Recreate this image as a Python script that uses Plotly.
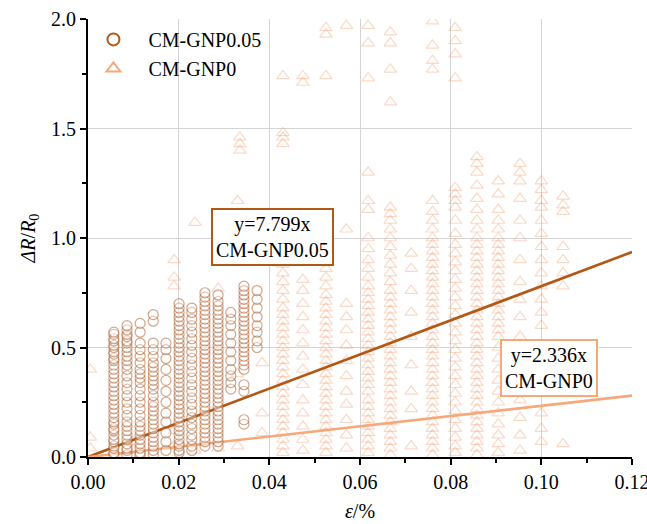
import plotly.graph_objects as go

# ---------------- data ----------------
gnp005_x = [0.0057, 0.0086, 0.0115, 0.0144, 0.0172, 0.0201,
            0.0229, 0.0258, 0.0287, 0.0315, 0.0344, 0.0373]
gnp005_y = [
    [0.01, 0.02, 0.04, 0.05, 0.07, 0.08, 0.10, 0.12, 0.13, 0.15, 0.16, 0.18, 0.20,
     0.22, 0.24, 0.26, 0.28, 0.30, 0.32, 0.34, 0.36, 0.38, 0.40, 0.42, 0.44, 0.45,
     0.47, 0.48, 0.50, 0.51, 0.53, 0.54, 0.56, 0.57],
    [0.01, 0.03, 0.04, 0.06, 0.08, 0.10, 0.12, 0.14, 0.16, 0.19, 0.22, 0.25, 0.28,
     0.31, 0.34, 0.37, 0.40, 0.42, 0.44, 0.46, 0.48, 0.50, 0.52, 0.53, 0.55, 0.56,
     0.58, 0.60],
    [0.01, 0.02, 0.04, 0.06, 0.08, 0.10, 0.12, 0.14, 0.16, 0.19, 0.22, 0.25, 0.28,
     0.31, 0.34, 0.36, 0.38, 0.40, 0.43, 0.46, 0.49, 0.52, 0.57, 0.61],
    [0.01, 0.03, 0.05, 0.07, 0.09, 0.11, 0.13, 0.15, 0.17, 0.19, 0.21, 0.23, 0.25,
     0.28, 0.31, 0.33, 0.35, 0.37, 0.39, 0.41, 0.43, 0.46, 0.49, 0.52, 0.62, 0.65],
    [0.03, 0.07, 0.11, 0.16, 0.20, 0.25, 0.30, 0.35, 0.40, 0.45, 0.49, 0.52],
    [0.02, 0.03, 0.05, 0.06, 0.08, 0.10, 0.12, 0.14, 0.16, 0.18, 0.20, 0.22, 0.24,
     0.26, 0.28, 0.30, 0.32, 0.34, 0.36, 0.38, 0.40, 0.42, 0.44, 0.46, 0.48, 0.50,
     0.52, 0.54, 0.56, 0.58, 0.60, 0.62, 0.64, 0.66, 0.68, 0.70],
    [0.03, 0.05, 0.08, 0.10, 0.13, 0.15, 0.18, 0.21, 0.24, 0.27, 0.30, 0.33, 0.36,
     0.39, 0.42, 0.45, 0.48, 0.51, 0.54, 0.57, 0.60, 0.63, 0.66, 0.68],
    [0.05, 0.07, 0.09, 0.11, 0.13, 0.15, 0.17, 0.19, 0.21, 0.23, 0.25, 0.27, 0.29,
     0.31, 0.33, 0.35, 0.37, 0.39, 0.41, 0.43, 0.45, 0.47, 0.49, 0.51, 0.53, 0.55,
     0.57, 0.59, 0.61, 0.63, 0.65, 0.67, 0.69, 0.71, 0.73, 0.75],
    [0.05, 0.07, 0.09, 0.11, 0.13, 0.15, 0.17, 0.19, 0.21, 0.23, 0.25, 0.27, 0.29,
     0.31, 0.33, 0.35, 0.37, 0.39, 0.41, 0.43, 0.45, 0.47, 0.49, 0.51, 0.53, 0.55,
     0.57, 0.59, 0.61, 0.63, 0.65, 0.67, 0.69, 0.71, 0.74],
    [0.31, 0.34, 0.37, 0.40, 0.44, 0.48, 0.52, 0.56, 0.60, 0.63, 0.66],
    [0.15, 0.17, 0.30, 0.33, 0.40, 0.42, 0.44, 0.46, 0.48, 0.50, 0.52, 0.54, 0.56,
     0.58, 0.60, 0.62, 0.64, 0.66, 0.68, 0.70, 0.72, 0.74, 0.76, 0.78],
    [0.50, 0.53, 0.57, 0.60, 0.64, 0.68, 0.72, 0.76],
]

gnp0_x = [0.0005, 0.0100, 0.0190, 0.0236, 0.0287, 0.0330, 0.0335, 0.0384,
          0.0430, 0.0474, 0.0525, 0.0570, 0.0618, 0.0667, 0.0713, 0.0760,
          0.0810, 0.0858, 0.0905, 0.0953, 0.1000, 0.1048]
gnp0_y = [
    [0.04, 0.09, 0.40],
    [0.03, 0.07],
    [0.05, 0.12, 0.78, 0.82, 0.90],
    [0.03, 1.07],
    [0.04, 0.77, 1.07],
    [0.05, 0.38, 1.17],
    [1.40, 1.43, 1.46],
    [0.11, 0.20, 0.43],
    [0.02, 0.05, 0.08, 0.11, 0.14, 0.17, 0.20, 0.23, 0.26, 0.29, 0.32, 0.35, 0.38,
     0.41, 0.44, 0.47, 0.50, 0.53, 0.56, 0.59, 0.62, 0.65, 0.68, 0.72, 0.76, 0.80,
     0.84, 0.88, 0.93, 0.98, 1.43, 1.46, 1.48, 1.74],
    [0.03, 0.08, 0.14, 0.20, 0.26, 0.33, 0.40, 0.46, 0.52, 0.58, 0.64, 0.70, 0.76,
     0.81, 1.71, 1.74],
    [0.02, 0.05, 0.08, 0.11, 0.14, 0.17, 0.20, 0.23, 0.26, 0.29, 0.32, 0.35, 0.38,
     0.41, 0.44, 0.47, 0.50, 0.53, 0.56, 0.59, 0.62, 0.65, 0.68, 0.71, 0.74, 0.78,
     0.82, 0.86, 0.90, 0.94, 0.98, 1.74, 1.93, 1.96],
    [0.04, 0.10, 0.17, 0.24, 0.30, 0.37, 0.44, 0.51, 0.58, 0.64, 0.70, 1.04, 1.97],
    [0.02, 0.05, 0.08, 0.11, 0.14, 0.17, 0.20, 0.23, 0.26, 0.30, 0.33, 0.36, 0.39,
     0.42, 0.45, 0.48, 0.51, 0.54, 0.57, 0.60, 0.63, 0.66, 0.69, 0.72, 0.75, 0.78,
     0.82, 0.86, 0.90, 0.95, 1.00, 1.13, 1.17, 1.30, 1.73, 1.89, 1.97],
    [0.01, 0.04, 0.07, 0.10, 0.13, 0.16, 0.19, 0.22, 0.25, 0.28, 0.31, 0.34, 0.37,
     0.40, 0.43, 0.46, 0.49, 0.52, 0.55, 0.58, 0.61, 0.64, 0.67, 0.70, 0.73, 0.76,
     0.80, 0.84, 0.88, 0.92, 0.96, 1.00, 1.04, 1.08, 1.11, 1.14, 1.62, 1.77, 1.89,
     1.94],
    [0.05, 0.22, 0.30, 0.42, 0.55, 0.66, 0.76, 0.86, 0.93],
    [0.01, 0.04, 0.07, 0.10, 0.13, 0.16, 0.19, 0.22, 0.25, 0.28, 0.31, 0.34, 0.37,
     0.40, 0.43, 0.46, 0.49, 0.52, 0.55, 0.58, 0.61, 0.64, 0.67, 0.70, 0.73, 0.76,
     0.79, 0.82, 0.85, 0.88, 0.91, 0.94, 0.97, 1.00, 1.04, 1.08, 1.12, 1.17, 1.77,
     1.81, 1.88, 1.99],
    [0.02, 0.05, 0.09, 0.13, 0.17, 0.21, 0.25, 0.29, 0.33, 0.37, 0.41, 0.45, 0.49,
     0.53, 0.57, 0.61, 0.65, 0.69, 0.73, 0.77, 0.81, 0.85, 0.89, 0.93, 0.97, 1.02,
     1.08, 1.14, 1.17, 1.20, 1.23, 1.73, 1.84, 1.90, 1.96],
    [0.01, 0.04, 0.07, 0.10, 0.13, 0.16, 0.19, 0.22, 0.25, 0.28, 0.31, 0.34, 0.37,
     0.40, 0.43, 0.46, 0.49, 0.52, 0.55, 0.58, 0.61, 0.64, 0.67, 0.70, 0.73, 0.76,
     0.79, 0.82, 0.85, 0.88, 0.91, 0.94, 0.97, 1.00, 1.04, 1.08, 1.13, 1.18, 1.24,
     1.30, 1.34, 1.37],
    [0.02, 0.06, 0.10, 0.15, 0.20, 0.25, 0.30, 0.35, 0.40, 0.45, 0.50, 0.55, 0.58,
     0.61, 0.64, 0.67, 0.70, 0.73, 0.76, 0.79, 0.82, 0.85, 0.88, 0.91, 0.94, 0.97,
     1.00, 1.04, 1.08, 1.13, 1.20, 1.26],
    [0.03, 0.10, 0.18, 0.26, 0.35, 0.45, 0.55, 0.64, 0.72, 0.80, 0.90, 1.00, 1.08,
     1.18, 1.26, 1.30, 1.34],
    [0.07, 0.13, 0.20, 0.60, 0.66, 0.72, 0.78, 0.84, 0.90, 0.96, 1.02, 1.08, 1.14,
     1.17, 1.22, 1.26],
    [0.06, 0.78, 0.84, 0.90, 0.96, 1.12, 1.15, 1.19],
]

fit_slopes = [7.799, 2.336]
fit_names = ["CM-GNP0.05", "CM-GNP0"]
fit_x_range = [0.0, 0.12]

x_ticks = [0.00, 0.02, 0.04, 0.06, 0.08, 0.10, 0.12]
y_ticks = [0.0, 0.5, 1.0, 1.5, 2.0]

# ---------------- styles ----------------
BROWN = "rgb(178,88,22)"
LIGHT = "rgb(246,168,122)"
FONT = "Liberation Serif"
PAD = "\u00a0\u00a0\u00a0"


def flatten(xs, ys):
    fx, fy = [], []
    for x, col in zip(xs, ys):
        for v in col:
            fx.append(x)
            fy.append(v)
    return fx, fy


cx, cy = flatten(gnp005_x, gnp005_y)
tx, ty = flatten(gnp0_x, gnp0_y)

fig = go.Figure()

# triangles (CM-GNP0)
fig.add_trace(go.Scatter(
    x=tx, y=ty, mode="markers", showlegend=False,
    marker=dict(symbol="triangle-up-open", size=11,
                color="rgba(240,145,90,0.34)",
                line=dict(width=1.2, color="rgba(240,145,90,0.34)")),
))

# fit lines
for s, c in zip(fit_slopes, [BROWN, LIGHT]):
    fig.add_trace(go.Scatter(
        x=fit_x_range, y=[s * v for v in fit_x_range], mode="lines",
        line=dict(color=c, width=2.6), showlegend=False,
    ))

# circles (CM-GNP0.05)
fig.add_trace(go.Scatter(
    x=cx, y=cy, mode="markers", showlegend=False,
    marker=dict(symbol="circle", size=10,
                color="rgba(255,255,255,0.3)",
                line=dict(width=1.2, color="rgba(165,80,25,0.5)")),
))

# legend entries
fig.add_trace(go.Scatter(
    x=[None], y=[None], mode="markers", name=PAD + fit_names[0],
    marker=dict(symbol="circle-open", size=7, color=BROWN, line=dict(width=2.4)),
))
fig.add_trace(go.Scatter(
    x=[None], y=[None], mode="markers", name=PAD + fit_names[1],
    marker=dict(symbol="triangle-up-open", size=11, color=LIGHT, line=dict(width=1.6)),
))

# equation boxes
fig.add_annotation(
    x=0.0406, y=1.005, xref="x", yref="y", showarrow=False,
    text=f"y={fit_slopes[0]}x<br>{fit_names[0]}",
    font=dict(family=FONT, size=20, color="black"),
    bordercolor=BROWN, borderwidth=2, borderpad=3, bgcolor="white",
)
fig.add_annotation(
    x=0.1017, y=0.405, xref="x", yref="y", showarrow=False,
    text=f"y={fit_slopes[1]}x<br>{fit_names[1]}",
    font=dict(family=FONT, size=20, color="black"),
    bordercolor=LIGHT, borderwidth=2, borderpad=3, bgcolor="white",
)

axis_common = dict(
    showline=True, linecolor="black", linewidth=2,
    ticks="outside", ticklen=6, tickwidth=1.5, tickcolor="black",
    showgrid=True, gridcolor="rgb(212,212,212)", gridwidth=1,
    zeroline=False, mirror=False, automargin=False,
    ticklabeloverflow="allow",
    tickfont=dict(family=FONT, size=20, color="black"),
)

fig.update_xaxes(
    range=[0, 0.12 + 1e-9], tickvals=x_ticks, tickformat=".2f",
    minor=dict(dtick=0.01, ticks="outside", ticklen=4, tickcolor="black", showgrid=False),
    title=dict(text="<i>ε</i>/%", font=dict(family=FONT, size=20, color="black"), standoff=12),
    **axis_common,
)
fig.update_yaxes(
    range=[0, 2.0 + 1e-9], tickvals=y_ticks, tickformat=".1f",
    minor=dict(dtick=0.25, ticks="outside", ticklen=4, tickcolor="black", showgrid=False),
    title=dict(text="<i>ΔR</i>/<i>R</i><sub>0</sub>", font=dict(family=FONT, size=20, color="black"), standoff=10),
    **axis_common,
)

fig.update_layout(
    width=647, height=524,
    margin=dict(l=88, r=15, t=19, b=67),
    plot_bgcolor="white", paper_bgcolor="white",
    legend=dict(x=0.01, y=0.998, xanchor="left", yanchor="top",
                bgcolor="rgba(0,0,0,0)", borderwidth=0,
                font=dict(family=FONT, size=20, color="black"),
                itemsizing="constant", tracegroupgap=0),
)

fig.write_html("out.html",
               config={"displayModeBar": False},
               post_script="document.body.style.margin='0';document.body.style.overflow='hidden';")
